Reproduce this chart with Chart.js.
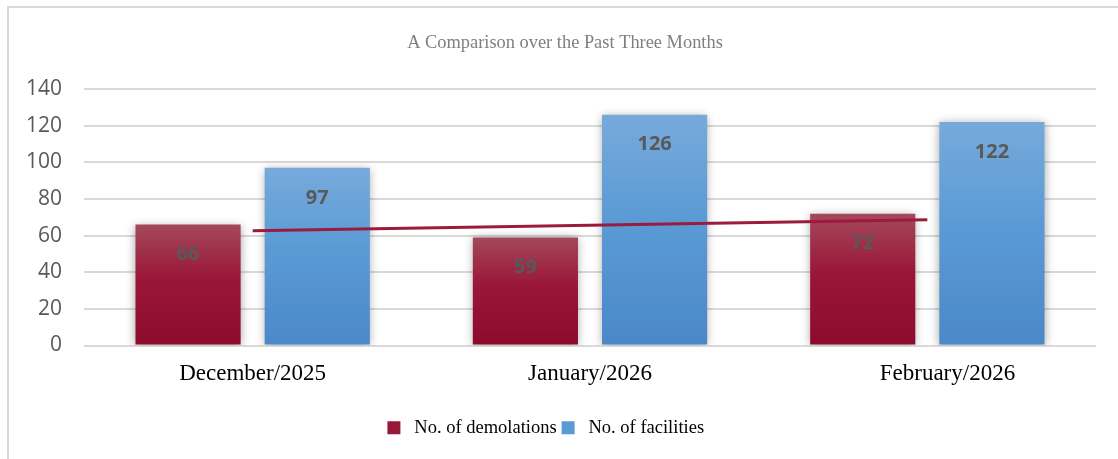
<!DOCTYPE html>
<html>
<head>
<meta charset="utf-8">
<script src="https://cdn.jsdelivr.net/npm/chart.js@4.4.1/dist/chart.umd.min.js"></script>
<style>
	html, body { margin: 0; padding: 0; background: #fff; }
	#wrap { position: relative; width: 1118px; height: 459px; overflow: hidden; }
	#frame { position: absolute; left: 7px; top: 6px; width: 1130px; height: 470px; border: 2px solid #d9d9d9; box-sizing: border-box; }
	#chart { position: absolute; left: 0; top: 0; }
</style>
</head>
<body>
<div id="wrap">
	<div id="frame"></div>
	<canvas id="chart" width="1118" height="459"></canvas>
</div>
<script>
	'use strict';

	// Values.
	const months = ['December/2025', 'January/2026', 'February/2026'];
	const demolations = [66, 59, 72];
	const facilities = [97, 126, 122];
	// Linear trend of the demolations series, as drawn in the picture.
	const trend = [62.7, 65.7, 68.7];
	const yTicks = [0, 20, 40, 60, 80, 100, 120, 140];

	const serif = '"Liberation Serif", "DejaVu Serif", serif';
	const sans = '"Open Sans", "Noto Sans", sans-serif';

	/**
	 * Vertical gradient for one bar, light at the top and darker at the base.
	 */
	function barGradient(context, top, mid, bottom) {
		const chart = context.chart;
		const yScale = chart.scales.y;
		if (!chart.chartArea || !yScale || context.raw === undefined) {
			return bottom;
		}
		const y0 = yScale.getPixelForValue(context.raw);
		const y1 = yScale.getPixelForValue(0);
		const g = chart.ctx.createLinearGradient(0, y0, 0, y1);
		g.addColorStop(0, top);
		g.addColorStop(0.45, mid);
		g.addColorStop(1, bottom);
		return g;
	}

	// Title and legend sit a little right of the plot centre in the original.
	const shiftBoxes = {
		id: 'shiftBoxes',
		afterLayout: function(chart) {
			const title = chart.titleBlock;
			const legend = chart.legend;
			if (title) {
				title.left += 14;
				title.right += 14;
			}
			if (legend) {
				legend.left += 13;
				legend.right += 13;
			}
		}
	};

	// Soft shadow round the bars.
	const barShadow = {
		id: 'barShadow',
		beforeDatasetDraw: function(chart, args) {
			if (args.meta.type !== 'bar') return;
			const ctx = chart.ctx;
			ctx.save();
			ctx.shadowColor = 'rgba(0, 0, 0, 0.35)';
			ctx.shadowBlur = 9;
			ctx.shadowOffsetX = 0;
			ctx.shadowOffsetY = 1;
		},
		afterDatasetDraw: function(chart, args) {
			if (args.meta.type !== 'bar') return;
			chart.ctx.restore();
		}
	};

	// Value labels inside the top end of each bar.
	const valueLabels = {
		id: 'valueLabels',
		afterDatasetsDraw: function(chart) {
			const ctx = chart.ctx;
			ctx.save();
			ctx.font = 'bold 20px ' + sans;
			ctx.fillStyle = '#595959';
			ctx.textAlign = 'center';
			ctx.textBaseline = 'middle';
			chart.data.datasets.forEach(function(ds, i) {
				const meta = chart.getDatasetMeta(i);
				if (meta.type !== 'bar') return;
				meta.data.forEach(function(bar, j) {
					ctx.fillText(String(ds.data[j]), bar.x, bar.y + 30);
				});
			});
			ctx.restore();
		}
	};

	const ctx = document.getElementById('chart').getContext('2d');
	new Chart(ctx, {
		type: 'bar',
		data: {
			labels: months,
			datasets: [
				{
					type: 'line',
					label: '',
					data: trend,
					borderColor: '#9b1b3d',
					borderWidth: 3,
					pointRadius: 0,
					fill: false,
					order: 0
				},
				{
					label: 'No. of demolations',
					data: demolations,
					backgroundColor: function(c) { return barGradient(c, '#a4495b', '#9a1638', '#8c0b2c'); },
					categoryPercentage: 0.766,
					barPercentage: 0.814,
					order: 1
				},
				{
					label: 'No. of facilities',
					data: facilities,
					backgroundColor: function(c) { return barGradient(c, '#77aadb', '#5b9bd5', '#4a88c8'); },
					categoryPercentage: 0.766,
					barPercentage: 0.814,
					order: 1
				}
			]
		},
		options: {
			responsive: false,
			animation: false,
			layout: {
				padding: { left: 6, right: 22, top: 0, bottom: 12 }
			},
			plugins: {
				title: {
					display: true,
					text: 'A Comparison over the Past Three Months',
					color: '#7f7f7f',
					font: { family: serif, size: 18.4, weight: 'normal' },
					padding: { top: 32, bottom: 35 }
				},
				legend: {
					position: 'bottom',
					labels: {
						color: '#1a1a1a',
						font: { family: serif, size: 18.5 },
						boxWidth: 13,
						boxHeight: 13,
						padding: 5,
						generateLabels: function() {
							return [
								{ text: ' No. of demolations', fillStyle: '#97193a', strokeStyle: '#97193a', lineWidth: 0, datasetIndex: 1 },
								{ text: ' No. of facilities', fillStyle: '#5b9bd5', strokeStyle: '#5b9bd5', lineWidth: 0, datasetIndex: 2 },
								{ text: '  ', fillStyle: 'rgba(0,0,0,0)', strokeStyle: 'rgba(0,0,0,0)', lineWidth: 0, datasetIndex: 0 }
							];
						}
					}
				},
				tooltip: { enabled: false }
			},
			scales: {
				x: {
					grid: { display: false },
					border: { display: false },
					afterFit: function(axis) {
						axis.height = 68;
					},
					ticks: {
						color: '#000',
						font: { family: serif, size: 23 },
						padding: 7,
						callback: function(value, index) {
							const label = this.getLabelForValue(value);
							// The last month label sits right of its bars in the original.
							return index === 2 ? '\u00a0\u00a0\u00a0\u00a0\u00a0\u00a0\u00a0' + label : label;
						}
					}
				},
				y: {
					min: 0,
					max: 140,
					afterBuildTicks: function(axis) {
						axis.ticks = yTicks.map(function(v) { return { value: v }; });
					},
					afterFit: function(axis) {
						axis.width = 78;
					},
					grid: {
						color: '#d9d9d9',
						lineWidth: 2,
						drawTicks: false
					},
					border: { display: false },
					ticks: {
						color: '#595959',
						font: { family: sans, size: 21 },
						padding: 22
					}
				}
			}
		},
		plugins: [shiftBoxes, barShadow, valueLabels]
	});
</script>
</body>
</html>
